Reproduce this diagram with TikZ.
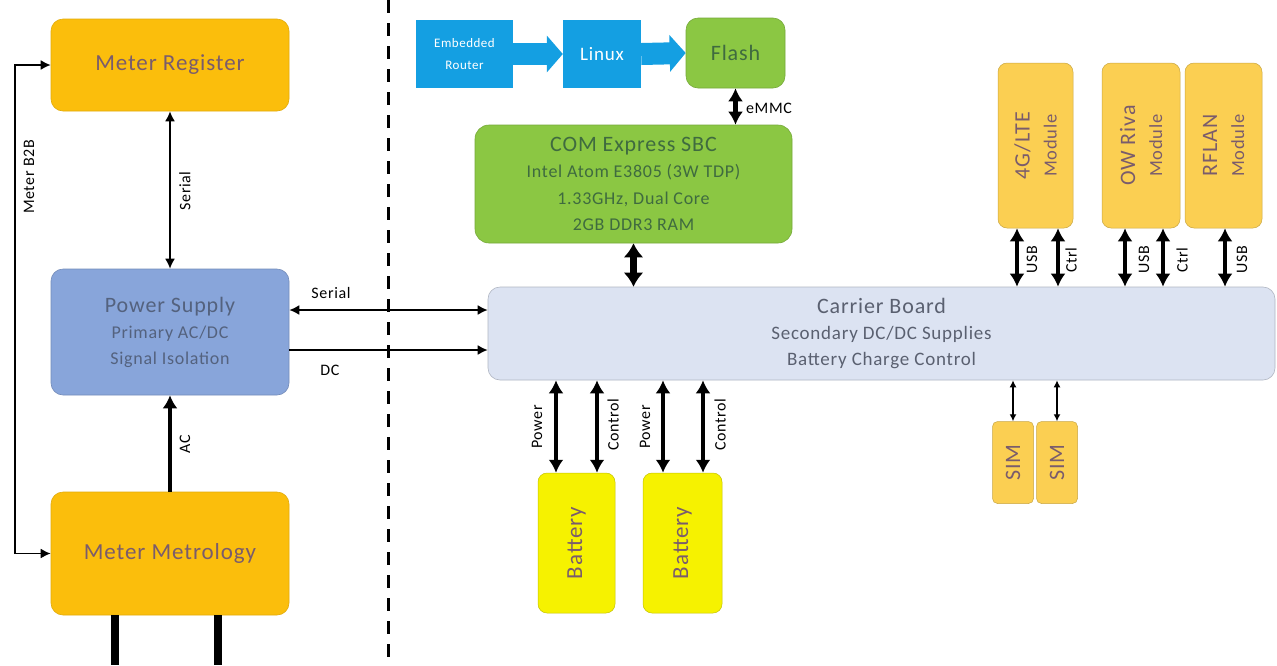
\documentclass[tikz,border=0pt]{standalone}
\usepackage{fontspec}
\setmainfont{Carlito}[LetterSpace=4]
\usetikzlibrary{arrows.meta}

\definecolor{meterfill}{HTML}{FBBE0C}
\definecolor{psufill}{HTML}{88A5DA}
\definecolor{carrierfill}{HTML}{DCE3F2}
\definecolor{greenfill}{HTML}{8BC743}
\definecolor{bluefill}{HTML}{149FE2}
\definecolor{modfill}{HTML}{FBCF52}
\definecolor{batfill}{HTML}{F6F200}
\definecolor{metertext}{HTML}{7A5C6C}
\definecolor{psutext}{HTML}{54627E}
\definecolor{carriertext}{HTML}{5A6070}
\definecolor{greentext}{HTML}{3F6B3F}

\tikzset{
  box/.style={rounded corners=12pt, inner sep=0pt, align=center},
  meterbox/.style={box, fill=meterfill, draw=meterfill!90!black, line width=0.6pt,
    text=metertext, font=\fontsize{23}{28}\selectfont,
    minimum width=238pt},
  psubox/.style={box, fill=psufill, draw=psufill!85!black, line width=0.6pt,
    text=psutext, font=\fontsize{18}{26}\selectfont},
  greenbox/.style={box, rounded corners=14pt, fill=greenfill, draw=greenfill!85!black,
    line width=0.6pt, text=greentext},
  bluebox/.style={inner sep=0pt, align=center, fill=bluefill, text=white},
  modbox/.style={box, rounded corners=9pt, fill=modfill, draw=modfill!80!black,
    line width=0.5pt, minimum height=165pt},
  simbox/.style={box, rounded corners=5pt, fill=modfill, draw=modfill!80!black,
    line width=0.5pt, minimum width=41pt, minimum height=82pt},
  batbox/.style={box, rounded corners=9pt, fill=batfill, draw=batfill!80!black,
    line width=0.5pt, minimum height=140pt},
  vtext/.style={rotate=90, text=metertext, align=center},
  modtext/.style={vtext, font=\fontsize{18.5}{27}\selectfont},
  lbl/.style={font=\fontsize{16}{18}\selectfont, text=black, inner sep=0pt},
  vlbl/.style={lbl, rotate=90},
  smalllbl/.style={vlbl, font=\fontsize{16}{18}\selectfont},
  thinarrow/.style={line width=1.7pt, {Latex[length=10pt,width=10pt]}-{Latex[length=10pt,width=10pt]}},
  thinhead/.style={line width=1.7pt, -{Latex[length=10pt,width=10pt]}},
  thickarrow/.style={line width=4.5pt, {Latex[length=13pt,width=15pt]}-{Latex[length=13pt,width=15pt]}},
  heavyarrow/.style={line width=7pt, {Latex[length=14pt,width=20pt]}-{Latex[length=14pt,width=20pt]}},
  thickhead/.style={line width=4.5pt, -{Latex[length=13pt,width=15pt]}},
  simarrow/.style={line width=1.3pt, {Latex[length=7pt,width=7pt]}-{Latex[length=7pt,width=7pt]}},
  blockarrow/.style={bluefill, line width=22pt, -{Triangle[length=16pt,width=36pt]}},
}

\begin{document}
\begin{tikzpicture}[x=1pt,y=-1pt]
\useasboundingbox (0,0) rectangle (1277,665);
\fill[white] (0,0) rectangle (1277,665);

% boundary between meter side and communications side
\draw[line width=3pt, dash pattern=on 13pt off 10pt] (388,0) -- (388,665);

% ---- meter side ----
\node[meterbox, minimum height=92pt] (reg) at (170,65) {Meter Register};
\node[psubox, minimum width=238pt, minimum height=126pt] (psu) at (170,332)
  {{\fontsize{22}{26}\selectfont Power Supply}\\Primary AC/DC\\Signal Isolation};
\node[meterbox, minimum height=123pt] (met) at (170,553.5) {Meter Metrology};

\draw[thinarrow] (reg.west) -- ([xshift=-36pt]reg.west) |- (met.west);
\node[vlbl] (lb2b) at (29,177) {Meter B2B};

\draw[thinarrow] (reg.south) -- (psu.north);
\node[vlbl] (lser1) at (185,191) {Serial};

\draw[thickhead] (met.north) -- (psu.south);
\node[vlbl] (lac) at (185,444) {AC};

\coordinate (feed1) at (115,665);
\coordinate (feed2) at (218,665);
\draw[line width=8pt] (met.south -| feed1) -- (feed1);
\draw[line width=8pt] (met.south -| feed2) -- (feed2);

% ---- communications side ----
\node[box, fill=carrierfill, draw=carrierfill!80!black, line width=0.6pt,
      minimum width=787pt, minimum height=93pt, text=carriertext,
      font=\fontsize{19}{26}\selectfont] (carrier) at (881.5,333.5)
  {{\fontsize{22}{26}\selectfont Carrier Board}\\Secondary DC/DC Supplies\\Battery Charge Control};

\draw[thinarrow] ([yshift=22pt]psu.east) -- ([yshift=22pt]psu.east -| carrier.west);
\node[lbl] (lser2) at (331,293) {Serial};
\draw[thinhead] ([yshift=-18pt]psu.east) -- ([yshift=-18pt]psu.east -| carrier.west);
\node[lbl] (ldc) at (330,370) {DC};

\node[bluebox, minimum width=97pt, minimum height=68pt,
      font=\fontsize{13}{22}\selectfont] (router) at (464.5,54) {Embedded\\Router};
\node[bluebox, minimum width=78pt, minimum height=68pt,
      font=\fontsize{19}{22}\selectfont] (linux) at (602,54) {Linux};
\node[greenbox, rounded corners=12pt, minimum width=99pt, minimum height=70pt,
      font=\fontsize{22}{26}\selectfont] (flash) at (735.5,53) {Flash};
\draw[blockarrow] (router.east) -- (linux.west);
\draw[blockarrow] (linux.east) -- (flash.west);

\node[greenbox, minimum width=317pt, minimum height=118pt,
      font=\fontsize{18}{26.5}\selectfont] (com) at (633.5,184)
  {{\fontsize{22}{26}\selectfont COM Express SBC}\\Intel Atom E3805 (3W TDP)\\1.33GHz, Dual Core\\2GB DDR3 RAM};

\draw[thickarrow] (flash.south) -- (flash.south |- com.north);
\node[lbl] (lemmc) at (769,108) {eMMC};
\draw[heavyarrow] (com.south) -- (com.south |- carrier.north);

% radio modules
\node[modbox, minimum width=75pt] (lte) at (1035.5,145.5) {};
\node[modbox, minimum width=78pt] (owr) at (1141,145.5) {};
\node[modbox, minimum width=77pt] (rfl) at (1223.5,145.5) {};
\node[modtext] (ltet) at (lte) {{\fontsize{22}{27}\selectfont 4G/LTE}\\Module};
\node[modtext] (owrt) at (owr) {{\fontsize{22}{27}\selectfont OW Riva}\\Module};
\node[modtext] (rflt) at (rfl) {{\fontsize{22}{27}\selectfont RFLAN}\\Module};

\draw[thickarrow] ([xshift=-18.5pt]lte.south) -- ([xshift=-18.5pt]lte.south |- carrier.north);
\draw[thickarrow] ([xshift=22.5pt]lte.south) -- ([xshift=22.5pt]lte.south |- carrier.north);
\draw[thickarrow] ([xshift=-16pt]owr.south) -- ([xshift=-16pt]owr.south |- carrier.north);
\draw[thickarrow] ([xshift=22pt]owr.south) -- ([xshift=22pt]owr.south |- carrier.north);
\draw[thickarrow] ([xshift=1.5pt]rfl.south) -- ([xshift=1.5pt]rfl.south |- carrier.north);
\node[smalllbl] (lu1) at (1032,260) {USB};
\node[smalllbl] (lc1) at (1071,260) {Ctrl};
\node[smalllbl] (lu2) at (1144,260) {USB};
\node[smalllbl] (lc2) at (1182,260) {Ctrl};
\node[smalllbl] (lu3) at (1242,260) {USB};

% SIM cards
\node[simbox] (sim1) at (1013,462.5) {};
\node[simbox] (sim2) at (1057,462.5) {};
\node[vtext, font=\fontsize{22}{24}\selectfont] (sim1t) at (sim1) {SIM};
\node[vtext, font=\fontsize{22}{24}\selectfont] (sim2t) at (sim2) {SIM};
\draw[simarrow] (sim1.north) -- (sim1.north |- carrier.south);
\draw[simarrow] (sim2.north) -- (sim2.north |- carrier.south);

% batteries
\node[batbox, minimum width=77pt] (bat1) at (576.5,543) {};
\node[batbox, minimum width=79pt] (bat2) at (682.5,543) {};
\node[vtext, font=\fontsize{23}{26}\selectfont] (bat1t) at (bat1) {Battery};
\node[vtext, font=\fontsize{23}{26}\selectfont] (bat2t) at (bat2) {Battery};

\draw[thickarrow] ([xshift=-20.5pt]bat1.north) -- ([xshift=-20.5pt]bat1.north |- carrier.south);
\draw[thickarrow] ([xshift=20.5pt]bat1.north) -- ([xshift=20.5pt]bat1.north |- carrier.south);
\draw[thickarrow] ([xshift=-19.5pt]bat2.north) -- ([xshift=-19.5pt]bat2.north |- carrier.south);
\draw[thickarrow] ([xshift=20.5pt]bat2.north) -- ([xshift=20.5pt]bat2.north |- carrier.south);
\node[smalllbl] (lp1) at (537,427) {Power};
\node[smalllbl] (lk1) at (613,425) {Control};
\node[smalllbl] (lp2) at (645,427) {Power};
\node[smalllbl] (lk2) at (720,425) {Control};
\end{tikzpicture}
\end{document}
